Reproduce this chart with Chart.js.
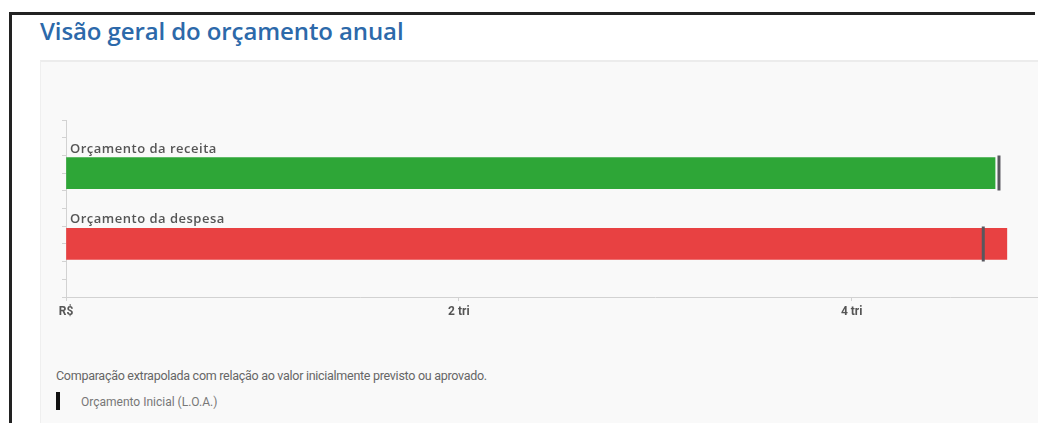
<!DOCTYPE html>
<html lang="pt-BR">
<head>
<meta charset="utf-8">
<title>Visão geral do orçamento anual</title>
<script src="https://cdn.jsdelivr.net/npm/chart.js@4"></script>
<style>
    html, body { margin: 0; padding: 0; overflow: hidden; width: 1038px; height: 423px; }
    body {
        background:
            linear-gradient(#222, #222) 9px 12px / 1026px 3px no-repeat,
            linear-gradient(#222, #222) 9px 12px / 3px 411px no-repeat,
            #fff;
    }
    h2 { position: absolute; left: 40px; top: 15px; margin: 0; font: 600 24px "Open Sans", sans-serif; color: #2c69aa; line-height: 32px; letter-spacing: -0.1px; white-space: nowrap; }
    .panel { position: absolute; left: 40px; top: 60px; width: 997px; height: 361px; background: #f9f9f9; border-top: 2px solid #ececec; border-left: 1px solid #efefef; }
    .chart-box { position: absolute; left: 40px; top: 60px; width: 998px; height: 300px; overflow: hidden; }
    .chart-box canvas { position: absolute; left: 0; top: 0; }
    .nota { position: absolute; left: 56px; top: 368px; font: 12.5px Roboto, sans-serif; color: #666; letter-spacing: -0.28px; white-space: nowrap; }
    .legenda { position: absolute; left: 56px; top: 392px; font: 12px Roboto, sans-serif; color: #777; }
    .legenda i { position: absolute; left: 0; top: 0; width: 4px; height: 18px; background: #111; }
    .legenda span { position: absolute; left: 25px; top: 1px; white-space: nowrap; line-height: 18px; }
</style>
</head>
<body>
<h2>Visão geral do orçamento anual</h2>
<div class="panel"></div>
<div class="chart-box"><canvas id="orcamento" width="1225" height="300"></canvas></div>
<div class="nota">Comparação extrapolada com relação ao valor inicialmente previsto ou aprovado.</div>
<div class="legenda"><i></i><span>Orçamento Inicial (L.O.A.)</span></div>

<script>
// valores em trilhões de reais
const categories = ['Orçamento da receita', 'Orçamento da despesa'];
const orcamentoAtual = [4.73, 4.79];
const orcamentoInicial = [4.75, 4.67];
const barColors = ['#2ea637', '#e84142'];
const xTickLabels = { 0: 'R$', 2: '2 tri', 4: '4 tri', 6: '6 tri' };

// linha i do gráfico no eixo vertical (0 = base, 10 = topo)
function rowOf(i) { return 7 - 4 * i; }

// nome da categoria escrito logo acima de cada barra
const barLabels = {
    id: 'barLabels',
    afterDatasetsDraw(chart) {
        const ctx = chart.ctx;
        const meta = chart.getDatasetMeta(0);
        ctx.save();
        ctx.font = '600 13px "Open Sans", sans-serif';
        ctx.letterSpacing = '0.5px';
        ctx.fillStyle = '#555';
        ctx.textBaseline = 'alphabetic';
        meta.data.forEach((bar, i) => {
            ctx.fillText(categories[i], chart.chartArea.left + 4, bar.y - bar.height / 2 - 5);
        });
        ctx.restore();
    }
};

document.addEventListener("DOMContentLoaded", function () {
    var ctx = document.getElementById('orcamento').getContext('2d');

    new Chart(ctx, {
        type: 'bar',
        data: {
            datasets: [{
                label: 'Orçamento',
                data: orcamentoAtual.map((v, i) => ({ x: v, y: rowOf(i) })),
                backgroundColor: barColors,
                borderWidth: 0,
                barThickness: 31,
                order: 1
            }, {
                type: 'scatter',
                label: 'Orçamento Inicial (L.O.A.)',
                data: orcamentoInicial.map((v, i) => ({ x: v, y: rowOf(i) })),
                pointStyle: 'line',
                rotation: 90,
                radius: 17.5,
                borderWidth: 3,
                borderColor: '#58575e',
                backgroundColor: '#58575e',
                order: 0
            }]
        },
        options: {
            indexAxis: 'y',
            responsive: false,
            animation: false,
            layout: { padding: { top: 60, left: 0, right: 0, bottom: 0 } },
            plugins: {
                legend: { display: false },
                tooltip: { enabled: false }
            },
            scales: {
                x: {
                    type: 'linear',
                    min: 0,
                    max: 6,
                    border: { color: '#d2d2d2', width: 1 },
                    grid: { drawOnChartArea: false, tickLength: 4, color: '#d2d2d2' },
                    ticks: {
                        stepSize: 2,
                        padding: 4,
                        color: '#555',
                        font: { family: 'Roboto', size: 12, weight: 'bold' },
                        callback: v => xTickLabels[v]
                    },
                    afterFit: scale => { scale.height = 63; }
                },
                y: {
                    type: 'linear',
                    min: 0,
                    max: 10,
                    offset: false,
                    border: { color: '#d2d2d2', width: 1 },
                    grid: { drawOnChartArea: false, offset: false, tickLength: 4, color: '#d2d2d2' },
                    ticks: { stepSize: 1, display: false },
                    afterFit: scale => { scale.width = 26; }
                }
            }
        },
        plugins: [barLabels]
    });
});
</script>
</body>
</html>
